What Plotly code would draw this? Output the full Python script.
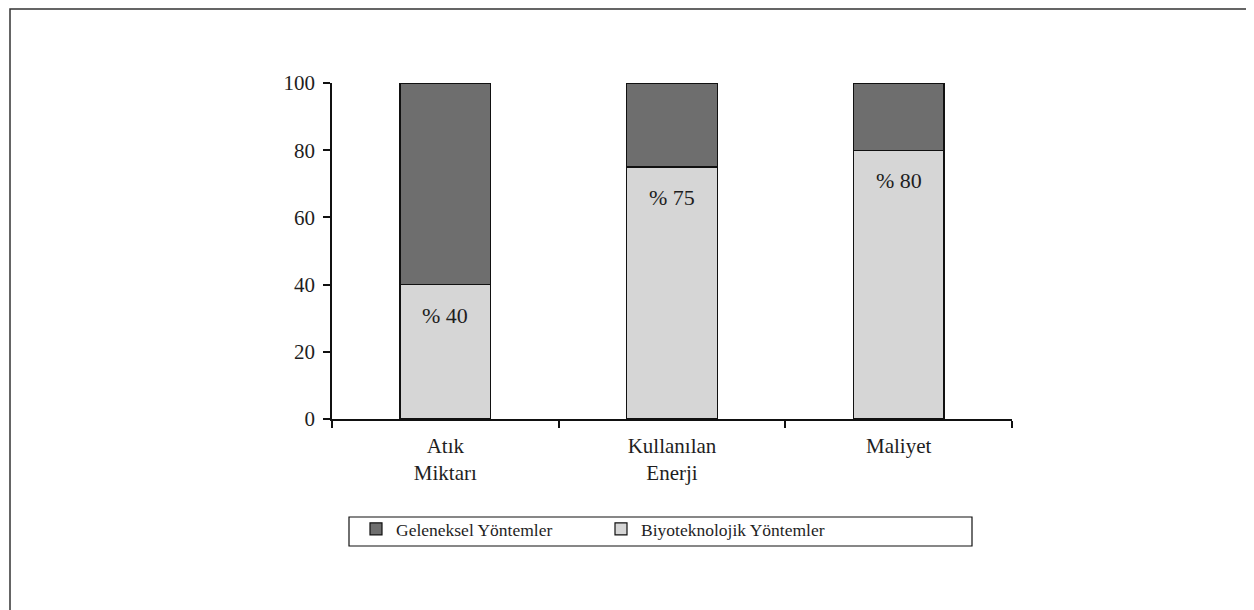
import plotly.graph_objects as go

categories = ["Atık<br>Miktarı", "Kullanılan<br>Enerji", "Maliyet"]
biyo = [40, 75, 80]
geleneksel = [60, 25, 20]
labels = ["% 40", "% 75", "% 80"]
yticks = [0, 20, 40, 60, 80, 100]

FONT = "Liberation Serif"
DARK = "#6e6e6e"
LIGHT = "#d6d6d6"
INK = "#1e1e1e"

# plot area in page pixels (page is offset by 8px)
PL, PR, PT, PB = 332, 1012, 83, 419
W, H = 1254, 610
OFF = 8
pw, ph = PR - PL, PB - PT

def px(x):
    return (x - PL) / pw

def py(y):
    return (PB - y) / ph

fig = go.Figure()
fig.add_trace(go.Bar(
    x=categories, y=biyo, name="Biyoteknolojik Yöntemler",
    marker=dict(color=LIGHT, line=dict(color="#111111", width=1.2)),
    width=0.4,
))
fig.add_trace(go.Bar(
    x=categories, y=geleneksel, name="Geleneksel Yöntemler",
    marker=dict(color=DARK, line=dict(color="#111111", width=1.2)),
    width=0.4,
))

for c, v, t in zip(categories, biyo, labels):
    fig.add_annotation(x=c, y=v, text=t, showarrow=False, yanchor="top",
                       yshift=-16, font=dict(family=FONT, size=22, color=INK))

# outer frame
fig.add_shape(type="rect", xref="paper", yref="paper",
              x0=px(10), x1=px(1400), y0=py(800), y1=py(9),
              line=dict(color="#333333", width=1.5), fillcolor="rgba(0,0,0,0)", layer="below")
# legend frame
fig.add_shape(type="rect", xref="paper", yref="paper",
              x0=px(349), x1=px(972), y0=py(546), y1=py(517),
              line=dict(color="#111111", width=1.2), fillcolor="white", layer="below")

fig.update_layout(
    width=W, height=H,
    margin=dict(l=PL - OFF, r=W - PR + OFF, t=PT - OFF, b=H - PB + OFF),
    barmode="stack",
    plot_bgcolor="white", paper_bgcolor="white",
    font=dict(family=FONT, size=18, color=INK),
    showlegend=True,
    legend=dict(
        orientation="h", traceorder="reversed",
        x=px(356), y=py(529), xanchor="left", yanchor="middle",
        borderwidth=0, bgcolor="rgba(0,0,0,0)",
        font=dict(family=FONT, size=17.5, color=INK),
        entrywidth=200, entrywidthmode="pixels",
    ),
    xaxis=dict(
        showline=True, linecolor="#111111", linewidth=1.5,
        ticks="outside", tickson="boundaries", ticklen=7, tickcolor="#111111", tickwidth=1.5,
        showgrid=False, tickfont=dict(family=FONT, size=21, color=INK), ticklabelstandoff=7,
    ),
    yaxis=dict(
        range=[0, 100], tickvals=yticks, showline=True, linecolor="#111111", linewidth=1.5,
        ticks="outside", ticklen=7, tickcolor="#111111", tickwidth=1.5,
        showgrid=False, zeroline=False, tickfont=dict(family=FONT, size=21, color=INK),
        ticklabelstandoff=4,
    ),
)

fig.write_html("out.html")
